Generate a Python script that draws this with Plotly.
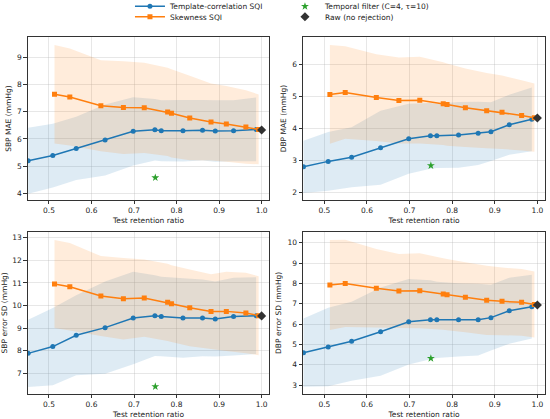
import plotly.graph_objects as go

# retention ratios of the two SQI sweeps
tc_ratio = [0.451, 0.509, 0.564, 0.632, 0.698, 0.749, 0.764, 0.815, 0.861, 0.891, 0.934, 0.987]
sk_ratio = [0.513, 0.549, 0.622, 0.675, 0.724, 0.779, 0.788, 0.831, 0.881, 0.917, 0.963, 0.993]
temporal_ratio = 0.75
raw_ratio = 1.0

# SBP MAE
sbp_mae_tc = [5.20, 5.39, 5.65, 5.96, 6.28, 6.34, 6.30, 6.30, 6.32, 6.29, 6.30, 6.35]
sbp_mae_tc_sd = [1.21, 1.17, 1.16, 1.30, 1.25, 1.13, 1.12, 1.13, 1.11, 1.13, 1.12, 1.17]
sbp_mae_sk = [7.64, 7.54, 7.22, 7.15, 7.14, 6.99, 6.94, 6.77, 6.62, 6.55, 6.44, 6.35]
sbp_mae_sk_sd = [1.81, 1.78, 1.67, 1.70, 1.66, 1.62, 1.62, 1.55, 1.41, 1.39, 1.35, 1.28]
sbp_mae_raw = 6.33
sbp_mae_temporal = 4.58

# DBP MAE
dbp_mae_tc = [2.80, 2.97, 3.10, 3.40, 3.68, 3.77, 3.77, 3.80, 3.85, 3.90, 4.12, 4.29]
dbp_mae_tc_sd = [0.82, 0.92, 0.94, 1.16, 1.10, 1.03, 1.01, 1.03, 0.99, 0.92, 0.94, 1.00]
dbp_mae_sk = [5.07, 5.13, 4.97, 4.88, 4.89, 4.78, 4.75, 4.65, 4.56, 4.51, 4.41, 4.34]
dbp_mae_sk_sd = [1.55, 1.45, 1.36, 1.35, 1.36, 1.30, 1.29, 1.23, 1.18, 1.15, 1.10, 1.07]
dbp_mae_raw = 4.33
dbp_mae_temporal = 2.84

# SBP error SD
sbp_sd_tc = [7.88, 8.18, 8.68, 9.02, 9.45, 9.55, 9.51, 9.45, 9.45, 9.40, 9.51, 9.55]
sbp_sd_tc_sd = [1.49, 1.71, 1.77, 2.04, 2.05, 1.79, 1.76, 1.76, 1.70, 1.66, 1.72, 1.70]
sbp_sd_sk = [10.95, 10.83, 10.42, 10.30, 10.33, 10.14, 10.08, 9.90, 9.73, 9.74, 9.67, 9.55]
sbp_sd_sk_sd = [1.95, 1.94, 1.77, 1.81, 1.71, 1.71, 1.70, 1.70, 1.66, 1.76, 1.78, 1.75]
sbp_sd_raw = 9.54
sbp_sd_temporal = 6.41

# DBP error SD
dbp_sd_tc = [4.60, 4.88, 5.16, 5.63, 6.12, 6.21, 6.21, 6.21, 6.22, 6.32, 6.66, 6.86]
dbp_sd_tc_sd = [1.68, 1.93, 1.94, 2.17, 2.10, 1.94, 1.87, 1.80, 1.76, 1.62, 1.62, 1.57]
dbp_sd_sk = [7.92, 8.00, 7.76, 7.63, 7.64, 7.48, 7.45, 7.32, 7.17, 7.12, 7.07, 6.96]
dbp_sd_sk_sd = [2.21, 2.14, 1.93, 1.82, 1.84, 1.76, 1.75, 1.72, 1.70, 1.66, 1.64, 1.62]
dbp_sd_raw = 6.94
dbp_sd_temporal = 4.32

BLUE = "#1f77b4"
ORANGE = "#ff7f0e"
GREEN = "#2ca02c"
RAW = "#333333"

LEFT_COL = [0.0504, 0.4896]
RIGHT_COL = [0.551, 0.991]
TOP_ROW = [0.5227, 0.911]
BOTTOM_ROW = [0.0597, 0.447]

panels = [
    ("x", "y", "SBP MAE (mmHg)", sbp_mae_tc, sbp_mae_tc_sd, sbp_mae_sk, sbp_mae_sk_sd,
     sbp_mae_raw, sbp_mae_temporal, [3.76, 9.73], LEFT_COL, TOP_ROW),
    ("x2", "y2", "DBP MAE (mmHg)", dbp_mae_tc, dbp_mae_tc_sd, dbp_mae_sk, dbp_mae_sk_sd,
     dbp_mae_raw, dbp_mae_temporal, [1.76, 6.86], RIGHT_COL, TOP_ROW),
    ("x3", "y3", "SBP error SD (mmHg)", sbp_sd_tc, sbp_sd_tc_sd, sbp_sd_sk, sbp_sd_sk_sd,
     sbp_sd_raw, sbp_sd_temporal, [6.08, 13.27], LEFT_COL, BOTTOM_ROW),
    ("x4", "y4", "DBP error SD (mmHg)", dbp_sd_tc, dbp_sd_tc_sd, dbp_sd_sk, dbp_sd_sk_sd,
     dbp_sd_raw, dbp_sd_temporal, [2.57, 10.54], RIGHT_COL, BOTTOM_ROW),
]


def band(x, mean, sd):
    upper = [m + s for m, s in zip(mean, sd)]
    lower = [m - s for m, s in zip(mean, sd)]
    return x + x[::-1], upper + lower[::-1]


fig = go.Figure()
layout_axes = {}

# legend rows: row 1 = template + temporal, row 2 = skewness + raw
for i, (xa, ya, ytitle, tc, tc_sd, sk, sk_sd, raw, temporal, yrange, xdom, ydom) in enumerate(panels):
    first = i == 0
    bx, by = band(tc_ratio, tc, tc_sd)
    fig.add_trace(go.Scatter(x=bx, y=by, xaxis=xa, yaxis=ya, fill="toself", mode="none",
                             fillcolor="rgba(31,119,180,0.15)", showlegend=False, hoverinfo="skip"))
    bx, by = band(sk_ratio, sk, sk_sd)
    fig.add_trace(go.Scatter(x=bx, y=by, xaxis=xa, yaxis=ya, fill="toself", mode="none",
                             fillcolor="rgba(255,127,14,0.15)", showlegend=False, hoverinfo="skip"))
    fig.add_trace(go.Scatter(x=tc_ratio, y=tc, xaxis=xa, yaxis=ya, mode="lines+markers",
                             name="Template-correlation SQI", legend="legend", legendrank=1,
                             showlegend=first, line=dict(color=BLUE, width=1.5),
                             marker=dict(symbol="circle", size=5, color=BLUE)))
    fig.add_trace(go.Scatter(x=sk_ratio, y=sk, xaxis=xa, yaxis=ya, mode="lines+markers",
                             name="Skewness SQI", legend="legend2", legendrank=1,
                             showlegend=first, line=dict(color=ORANGE, width=1.5),
                             marker=dict(symbol="square", size=5, color=ORANGE)))
    fig.add_trace(go.Scatter(x=[temporal_ratio], y=[temporal], xaxis=xa, yaxis=ya, mode="markers",
                             name="Temporal filter (C=4, τ=10)", legend="legend", legendrank=2,
                             showlegend=first, marker=dict(symbol="star", size=6, color=GREEN)))
    fig.add_trace(go.Scatter(x=[raw_ratio], y=[raw], xaxis=xa, yaxis=ya, mode="markers",
                             name="Raw (no rejection)", legend="legend2", legendrank=2,
                             showlegend=first, marker=dict(symbol="diamond", size=7, color=RAW)))

    axis_style = dict(showline=True, mirror=True, linecolor="#333333", linewidth=0.8,
                      ticks="outside", ticklen=3.5, tickwidth=0.8, tickcolor="#333333",
                      showgrid=True, gridcolor="rgba(176,176,176,0.3)", gridwidth=0.8,
                      zeroline=False, automargin=False, tickfont=dict(size=7.5, color="#222222"))
    suffix = "" if i == 0 else str(i + 1)
    layout_axes["xaxis" + suffix] = dict(
        axis_style, domain=xdom, anchor=ya, range=[0.45, 1.018], dtick=0.1, tickformat=".1f",
        title=dict(text="Test retention ratio", font=dict(size=7.5), standoff=3))
    layout_axes["yaxis" + suffix] = dict(
        axis_style, domain=ydom, anchor=xa, range=yrange, dtick=1,
        title=dict(text=ytitle, font=dict(size=7.5), standoff=4))

legend_style = dict(xanchor="left", yanchor="top", orientation="h", bgcolor="rgba(0,0,0,0)",
                    font=dict(size=7.5), entrywidth=110, entrywidthmode="pixels", itemwidth=30)

fig.update_layout(
    width=550, height=419,
    margin=dict(l=0, r=0, t=0, b=0, autoexpand=False),
    paper_bgcolor="white", plot_bgcolor="white",
    font=dict(family="DejaVu Sans", size=7.5, color="#222222"),
    legend=dict(legend_style, x=0.2363, y=1.0194),
    legend2=dict(legend_style, x=0.2363, y=0.9947),
    **layout_axes,
)

# the page body has a default 8px margin; drop it so the figure fills the window
fig.write_html("out.html", config={"displayModeBar": False},
               post_script="document.body.style.margin = '0px';")
